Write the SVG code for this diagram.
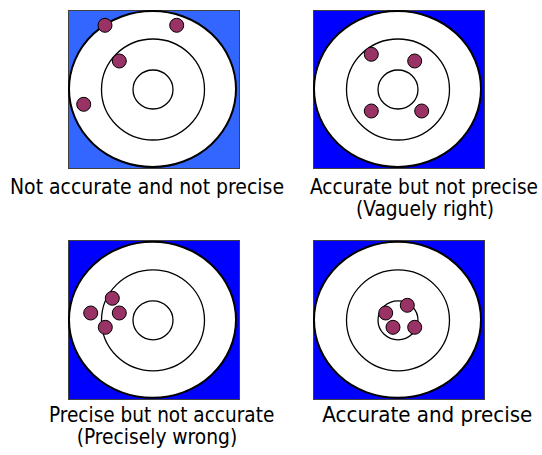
<svg xmlns="http://www.w3.org/2000/svg" width="542" height="455" viewBox="0 0 542 455">
  <style>
    .bg { stroke: #404040; stroke-width: 1; }
    .outer { fill: #ffffff; stroke: #000000; stroke-width: 2; }
    .ring { fill: #ffffff; stroke: #000000; stroke-width: 1.3; }
    .dot { fill: #993366; stroke: #000000; stroke-width: 1; }
    .lbl { font-family: "DejaVu Sans Condensed", "DejaVu Sans", sans-serif; font-size: 20.5px; fill: #000000; }
  </style>
  <defs>
    <g id="target">
      <ellipse class="outer" cx="0" cy="0" rx="83.5" ry="78"/>
      <ellipse class="ring" cx="0.5" cy="0.5" rx="51.5" ry="50.5"/>
      <ellipse class="ring" cx="0.5" cy="0.5" rx="20" ry="19.5"/>
    </g>
  </defs>
  <rect width="542" height="455" fill="#ffffff"/>

  <g id="target1">
    <rect class="bg" x="68.5" y="10.5" width="171" height="158" fill="#3366ff"/>
    <use href="#target" x="152.5" y="89"/>
    <circle class="dot" cx="105" cy="25.3" r="7"/>
    <circle class="dot" cx="176.7" cy="25.3" r="7"/>
    <circle class="dot" cx="119.3" cy="61" r="7"/>
    <circle class="dot" cx="83.7" cy="104.3" r="7"/>
  </g>

  <g id="target2">
    <rect class="bg" x="313.5" y="10.5" width="171" height="158" fill="#0000ff"/>
    <use href="#target" x="397.5" y="89"/>
    <circle class="dot" cx="371.3" cy="54.3" r="7"/>
    <circle class="dot" cx="414.7" cy="61" r="7"/>
    <circle class="dot" cx="371.3" cy="111" r="7"/>
    <circle class="dot" cx="421.7" cy="111" r="7"/>
  </g>

  <g id="target3">
    <rect class="bg" x="68.5" y="240.5" width="171" height="159" fill="#0000ff"/>
    <use href="#target" x="152.5" y="319.8"/>
    <circle class="dot" cx="112.3" cy="298.3" r="7"/>
    <circle class="dot" cx="90.7" cy="313" r="7"/>
    <circle class="dot" cx="119.3" cy="313" r="7"/>
    <circle class="dot" cx="105.3" cy="327.3" r="7"/>
  </g>

  <g id="target4">
    <rect class="bg" x="313.5" y="240.5" width="171" height="159" fill="#0000ff"/>
    <use href="#target" x="397.5" y="319.8"/>
    <circle class="dot" cx="385.7" cy="313" r="7"/>
    <circle class="dot" cx="407.3" cy="305.3" r="7"/>
    <circle class="dot" cx="393" cy="327.3" r="7"/>
    <circle class="dot" cx="414.7" cy="327.3" r="7"/>
  </g>

  <g id="labels">
    <text class="lbl" x="10" y="194.3" textLength="274" lengthAdjust="spacingAndGlyphs">Not accurate and not precise</text>
    <text class="lbl" x="310" y="194.3" textLength="228" lengthAdjust="spacingAndGlyphs">Accurate but not precise</text>
    <text class="lbl" x="356" y="215.5" textLength="138" lengthAdjust="spacingAndGlyphs">(Vaguely right)</text>
    <text class="lbl" x="49" y="422.3" textLength="225.3" lengthAdjust="spacingAndGlyphs">Precise but not accurate</text>
    <text class="lbl" x="76.7" y="443.5" textLength="160.5" lengthAdjust="spacingAndGlyphs">(Precisely wrong)</text>
    <text class="lbl" x="322.3" y="422.3" textLength="210" lengthAdjust="spacingAndGlyphs">Accurate and precise</text>
  </g>
</svg>
